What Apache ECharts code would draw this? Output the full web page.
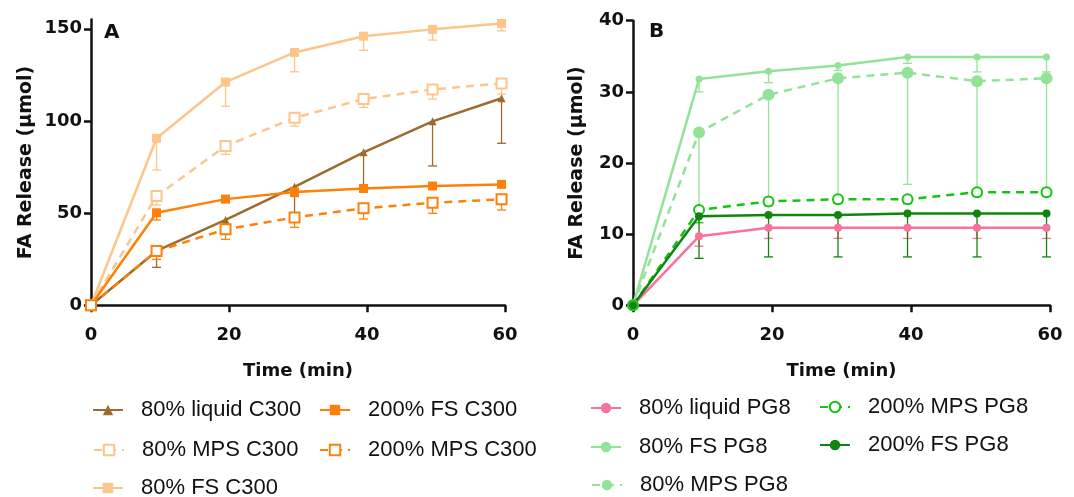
<!DOCTYPE html>
<html>
<head>
<meta charset="utf-8">
<script src="https://cdn.jsdelivr.net/npm/echarts@6/dist/echarts.min.js"></script>
<style>
  html, body { margin: 0; padding: 0; background: #fff; }
</style>
</head>
<body>
<div id="charts" style="width:1074px;height:497px;"></div>
<script>
// time points (min)
var time = [0, 9.5, 19.5, 29.5, 39.5, 49.5, 59.5];

// panel A - C300
var liquidC300 = [0, 29.5, 46.3, 64.3, 83, 99.8, 112.3];
var liquidC300Low = [0, 20.6, 46.3, 50, 64, 75.6, 87.9];
var mps80C300 = [0, 59.3, 86.4, 101.7, 111.9, 117.1, 120.4];
var mps80C300Low = [0, 54.4, 81.9, 97.2, 107.4, 111.9, 114.6];
var fs80C300 = [0, 90.6, 121.1, 137.2, 146, 149.7, 152.9];
var fs80C300Low = [0, 73.4, 108, 126.7, 138.4, 143.9, 148.9];
var fs200C300 = [0, 50.2, 57.6, 61.5, 63.4, 64.7, 65.6];
var fs200C300Low = [0, 46.3, 56, 59, 61.5, 63, 64];
var mps200C300 = [0, 29.4, 41.2, 47.7, 52.6, 55.6, 57.5];
var mps200C300Low = [0, 24.9, 35.8, 42.3, 46.8, 49.9, 51.7];

// panel B - PG8
var liquidPG8 = [0, 9.7, 10.9, 10.9, 10.9, 10.9, 10.9];
var liquidPG8Low = [0, 8.3, 9.4, 9.4, 9.4, 9.4, 9.4];
var fs80PG8 = [0, 31.8, 32.9, 33.7, 34.9, 34.9, 34.9];
var fs80PG8Low = [0, 30.0, 31.3, 33, 34, 32.8, 32.8];
var mps80PG8 = [0, 24.3, 29.6, 31.9, 32.7, 31.5, 31.9];
var mps80PG8Low = [0, 13.4, 14.6, 15, 17, 16, 16];
var mps200PG8 = [0, 13.4, 14.6, 14.9, 14.9, 15.9, 15.9];
var mps200PG8Low = [0, 11.6, 14, 14.3, 14.3, 15.3, 15.3];
var fs200PG8 = [0, 12.5, 12.7, 12.7, 12.9, 12.9, 12.9];
var fs200PG8Low = [0, 6.6, 6.8, 6.8, 6.8, 6.8, 6.8];

var yTicksA = [0, 50, 100, 150];
var yTicksB = [0, 10, 20, 30, 40];

var myChart = echarts.init(document.getElementById('charts'));

function pts (ys) {
  return time.map(function (t, i) { return [t, ys[i]]; });
}
function errPts (ys, lows) {
  return time.map(function (t, i) { return [t, ys[i], lows[i]]; });
}

var axisFont = { fontFamily: 'DejaVu Sans', fontWeight: 'bold', fontSize: 18, color: '#111' };

function xAxisFor (idx) {
  return {
    type: 'value', gridIndex: idx, min: 0, max: 60, interval: 20,
    name: 'Time (min)', nameLocation: 'middle', nameGap: 57,
    nameTextStyle: { fontFamily: 'DejaVu Sans', fontWeight: 'bold', fontSize: 18, color: '#111' },
    axisLine: { lineStyle: { color: '#111', width: 2.5 } },
    axisTick: { inside: false, length: 7, lineStyle: { color: '#111', width: 2.5 } },
    axisLabel: Object.assign({ margin: 21 }, axisFont),
    splitLine: { show: false }
  };
}
function yAxisFor (idx, max, ticks, gap) {
  return {
    type: 'value', gridIndex: idx, min: 0, max: max,
    name: 'FA Release (μmol)', nameLocation: 'middle', nameGap: gap,
    nameTextStyle: { fontFamily: 'DejaVu Sans', fontWeight: 'bold', fontSize: 19, color: '#111' },
    axisLine: { show: true, lineStyle: { color: '#111', width: 2.5 } },
    axisTick: { show: true, inside: false, length: 7, customValues: ticks, lineStyle: { color: '#111', width: 2.5 } },
    axisLabel: Object.assign({ margin: 9, customValues: ticks }, axisFont),
    splitLine: { show: false }
  };
}

function lineSeries (name, idx, ys, color, symbol, size, dashed, hollow) {
  return {
    name: name, type: 'line', xAxisIndex: idx, yAxisIndex: idx,
    data: pts(ys), clip: false, z: 3,
    symbol: symbol, symbolSize: size, showAllSymbol: true,
    lineStyle: { color: color, width: 2.5, type: dashed ? [8, 6] : 'solid' },
    itemStyle: hollow ? { color: '#fff', borderColor: color, borderWidth: 2 } : { color: color, borderWidth: 0 },
    emphasis: { disabled: true }
  };
}

function errSeries (idx, ys, lows, color) {
  return {
    type: 'custom', xAxisIndex: idx, yAxisIndex: idx, silent: true, z: 2,
    data: errPts(ys, lows),
    encode: { x: 0, y: 1 },
    renderItem: function (params, api) {
      var top = api.coord([api.value(0), api.value(1)]);
      var bot = api.coord([api.value(0), api.value(2)]);
      if (Math.abs(top[1] - bot[1]) < 1) return null;
      var st = { stroke: color, lineWidth: 1.3 };
      return {
        type: 'group',
        children: [
          { type: 'line', shape: { x1: top[0], y1: top[1], x2: bot[0], y2: bot[1] }, style: st },
          { type: 'line', shape: { x1: bot[0] - 4.5, y1: bot[1], x2: bot[0] + 4.5, y2: bot[1] }, style: st }
        ]
      };
    }
  };
}

var cBrown = '#9c6b2e';
var cLight = '#fcc58a';
var cOrange = '#fd8108';
var cPink = '#f8729c';
var cLightGreen = '#92e398';
var cGreen = '#14c414';
var cDarkGreen = '#0f840f';

var legendText = { fontFamily: 'Liberation Sans', fontSize: 22, color: '#111', lineHeight: 24, padding: [0, 0, 0, 13] };
// one legend per entry, placed by its row centre
function legendFor (name, left, cy) {
  return {
    data: [name], orient: 'vertical', left: left, top: cy - 12,
    itemWidth: 30, itemHeight: 13, padding: 0,
    selectedMode: false, textStyle: legendText
  };
}

var option = {
  animation: false,
  backgroundColor: '#fff',
  grid: [
    { left: 91, right: 569, top: 19.6, bottom: 191.7, outerBoundsMode: 'none' },
    { left: 633, right: 24, top: 20.7, bottom: 191.7, outerBoundsMode: 'none' }
  ],
  xAxis: [xAxisFor(0), xAxisFor(1)],
  yAxis: [yAxisFor(0, 155, yTicksA, 55), yAxisFor(1, 40, yTicksB, 46)],
  legend: [
    legendFor('80% liquid C300', 92, 410),
    legendFor('80% MPS C300', 93, 450),
    legendFor('80% FS C300', 92, 488),
    legendFor('200% FS C300', 319, 410),
    legendFor('200% MPS C300', 319, 450),
    legendFor('80% liquid PG8', 590, 408),
    legendFor('80% FS PG8', 590, 447),
    legendFor('80% MPS PG8', 591, 485),
    legendFor('200% MPS PG8', 819, 407),
    legendFor('200% FS PG8', 819, 445)
  ],
  graphic: [
    { type: 'text', left: 104, top: 23, style: { text: 'A', font: 'bold 20px "DejaVu Sans"', fill: '#111' } },
    { type: 'text', left: 649, top: 22, style: { text: 'B', font: 'bold 20px "DejaVu Sans"', fill: '#111' } }
  ],
  series: [
    errSeries(0, liquidC300, liquidC300Low, cBrown),
    errSeries(0, mps80C300, mps80C300Low, cLight),
    errSeries(0, fs80C300, fs80C300Low, cLight),
    errSeries(0, fs200C300, fs200C300Low, cOrange),
    errSeries(0, mps200C300, mps200C300Low, cOrange),
    lineSeries('80% liquid C300', 0, liquidC300, cBrown, 'triangle', 8, false, false),
    lineSeries('80% MPS C300', 0, mps80C300, cLight, 'rect', 10, true, true),
    lineSeries('80% FS C300', 0, fs80C300, cLight, 'rect', 9, false, false),
    lineSeries('200% FS C300', 0, fs200C300, cOrange, 'rect', 9, false, false),
    lineSeries('200% MPS C300', 0, mps200C300, cOrange, 'rect', 10, true, true),

    errSeries(1, liquidPG8, liquidPG8Low, cPink),
    errSeries(1, fs80PG8, fs80PG8Low, cLightGreen),
    errSeries(1, mps80PG8, mps80PG8Low, cLightGreen),
    errSeries(1, mps200PG8, mps200PG8Low, cGreen),
    errSeries(1, fs200PG8, fs200PG8Low, cDarkGreen),
    lineSeries('80% liquid PG8', 1, liquidPG8, cPink, 'circle', 8, false, false),
    lineSeries('80% FS PG8', 1, fs80PG8, cLightGreen, 'circle', 7, false, false),
    lineSeries('80% MPS PG8', 1, mps80PG8, cLightGreen, 'circle', 12, true, false),
    lineSeries('200% MPS PG8', 1, mps200PG8, cGreen, 'circle', 10, true, true),
    lineSeries('200% FS PG8', 1, fs200PG8, cDarkGreen, 'circle', 8, false, false)
  ]
};

myChart.setOption(option);
window.onresize = function () { myChart.resize(); };
</script>
</body>
</html>
